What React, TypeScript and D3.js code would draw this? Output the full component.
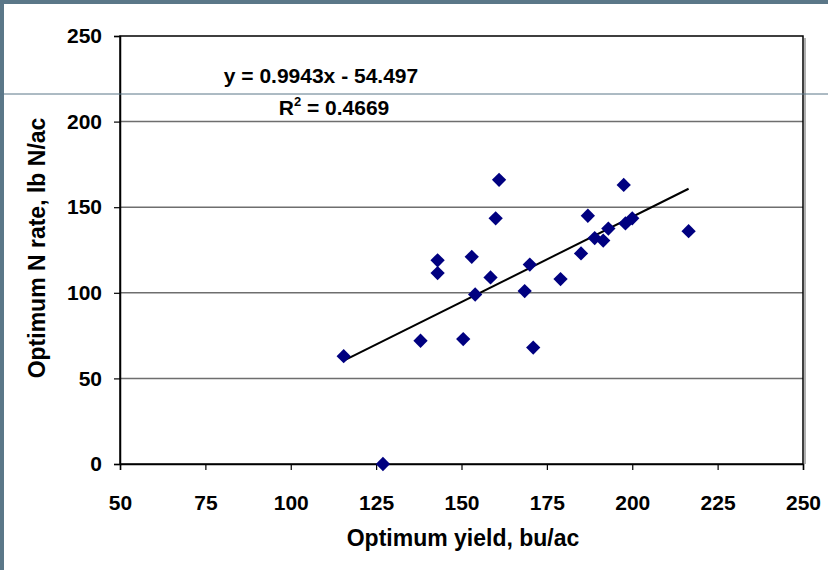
import React, { useEffect, useRef } from "react";
import * as d3 from "d3";

// Optimum yield (bu/ac) vs optimum N rate (lb N/ac)
const yieldValues = [
  115.5, 127, 138, 143, 143, 150.5, 153, 154, 158.5, 160, 161, 168.5, 170, 171,
  179, 185, 187, 189, 191.5, 193, 197.5, 198, 200, 216.5,
];
const nRateValues = [
  63, 0, 72, 119, 111.5, 73, 121, 99, 109, 143.5, 166, 101, 116.5, 68,
  108, 123, 145, 132, 130.5, 137.5, 163, 140.5, 143.5, 136,
];
const xTicks = [50, 75, 100, 125, 150, 175, 200, 225, 250];
const yTicks = [0, 50, 100, 150, 200, 250];
const slope = 0.9943;
const intercept = -54.497;

const FONT = "'Liberation Sans', Arial, sans-serif";

export default function App() {
  const ref = useRef<SVGSVGElement>(null);

  useEffect(() => {
    const width = 828,
      height = 570;
    const margin = { left: 120, right: 25, top: 36, bottom: 106 };

    const svg = d3.select(ref.current);
    svg.selectAll("*").remove();

    // Slide background frame
    svg.append("rect").attr("width", width).attr("height", height).attr("fill", "#ffffff");
    svg.append("rect").attr("width", width).attr("height", 4).attr("fill", "#5b7788");
    svg.append("rect").attr("width", 4).attr("height", height).attr("fill", "#5b7788");

    const x = d3
      .scaleLinear()
      .domain([50, 250])
      .range([margin.left, width - margin.right]);
    const y = d3
      .scaleLinear()
      .domain([0, 250])
      .range([height - margin.bottom, margin.top]);

    const chart = svg.append("g");

    // Gridlines
    chart
      .append("g")
      .selectAll("line")
      .data(yTicks.filter((t) => t > 0 && t < 250))
      .join("line")
      .attr("x1", x(50))
      .attr("x2", x(250))
      .attr("y1", (d) => y(d))
      .attr("y2", (d) => y(d))
      .attr("stroke", "#6e6e6e")
      .attr("stroke-width", 1.5);

    // Plot area border with a light shadow on the right
    chart
      .append("line")
      .attr("x1", x(250) + 2)
      .attr("x2", x(250) + 2)
      .attr("y1", y(250) + 2)
      .attr("y2", y(0))
      .attr("stroke", "#b0b0b0")
      .attr("stroke-width", 2);
    chart
      .append("rect")
      .attr("x", x(50))
      .attr("y", y(250))
      .attr("width", x(250) - x(50))
      .attr("height", y(0) - y(250))
      .attr("fill", "none")
      .attr("stroke", "#000000")
      .attr("stroke-width", 1.5);

    // Y axis
    const yAxis = chart
      .append("g")
      .attr("transform", `translate(${x(50)},0)`)
      .call(d3.axisLeft(y).tickValues(yTicks).tickSize(6).tickPadding(12));
    // X axis
    const xAxis = chart
      .append("g")
      .attr("transform", `translate(0,${y(0)})`)
      .call(d3.axisBottom(x).tickValues(xTicks).tickSize(6).tickPadding(25));

    [yAxis, xAxis].forEach((ax) => {
      ax.select(".domain").attr("stroke", "#000").attr("stroke-width", 1.5);
      ax.selectAll(".tick line").attr("stroke", "#000").attr("stroke-width", 1.2);
      ax.selectAll(".tick text")
        .attr("font-family", FONT)
        .attr("font-weight", "bold")
        .attr("font-size", 21)
        .attr("fill", "#000");
    });
    xAxis.selectAll(".tick text").attr("dy", "0.71em");

    // Slide separator line
    svg
      .append("line")
      .attr("x1", 0)
      .attr("x2", width)
      .attr("y1", 94)
      .attr("y2", 94)
      .attr("stroke", "#5b7788")
      .attr("stroke-width", 1);

    // Trendline
    const xMin = d3.min(yieldValues) as number;
    const xMax = d3.max(yieldValues) as number;
    chart
      .append("line")
      .attr("x1", x(xMin))
      .attr("y1", y(slope * xMin + intercept))
      .attr("x2", x(xMax))
      .attr("y2", y(slope * xMax + intercept))
      .attr("stroke", "#000")
      .attr("stroke-width", 2);

    // Diamonds
    const diamond = d3.symbol().type(d3.symbolDiamond2).size(130);
    chart
      .append("g")
      .selectAll("path")
      .data(yieldValues.map((v, i) => ({ x: v, y: nRateValues[i] })))
      .join("path")
      .attr("d", diamond)
      .attr("transform", (d) => `translate(${x(d.x)},${y(d.y)})`)
      .attr("fill", "#000080");

    // Equation labels
    chart
      .append("text")
      .attr("x", 321)
      .attr("y", 83)
      .attr("text-anchor", "middle")
      .attr("font-family", FONT)
      .attr("font-weight", "bold")
      .attr("font-size", 21)
      .text("y = 0.9943x - 54.497");
    const r2 = chart
      .append("text")
      .attr("x", 334)
      .attr("y", 115)
      .attr("text-anchor", "middle")
      .attr("font-family", FONT)
      .attr("font-weight", "bold")
      .attr("font-size", 21);
    r2.append("tspan").text("R");
    r2.append("tspan").attr("font-size", 13).attr("dy", -9).text("2");
    r2.append("tspan").attr("dy", 9).text(" = 0.4669");

    // Axis titles
    chart
      .append("text")
      .attr("x", 463)
      .attr("y", 546)
      .attr("text-anchor", "middle")
      .attr("font-family", FONT)
      .attr("font-weight", "bold")
      .attr("font-size", 23)
      .text("Optimum yield, bu/ac");
    chart
      .append("text")
      .attr("transform", `translate(45,${(y(0) + y(250)) / 2 - 2}) rotate(-90)`)
      .attr("text-anchor", "middle")
      .attr("font-family", FONT)
      .attr("font-weight", "bold")
      .attr("font-size", 23)
      .text("Optimum N rate, lb N/ac");
  }, []);

  return (
    <svg
      ref={ref}
      width={828}
      height={570}
      style={{ position: "absolute", left: 0, top: 0, display: "block" }}
    ></svg>
  );
}
